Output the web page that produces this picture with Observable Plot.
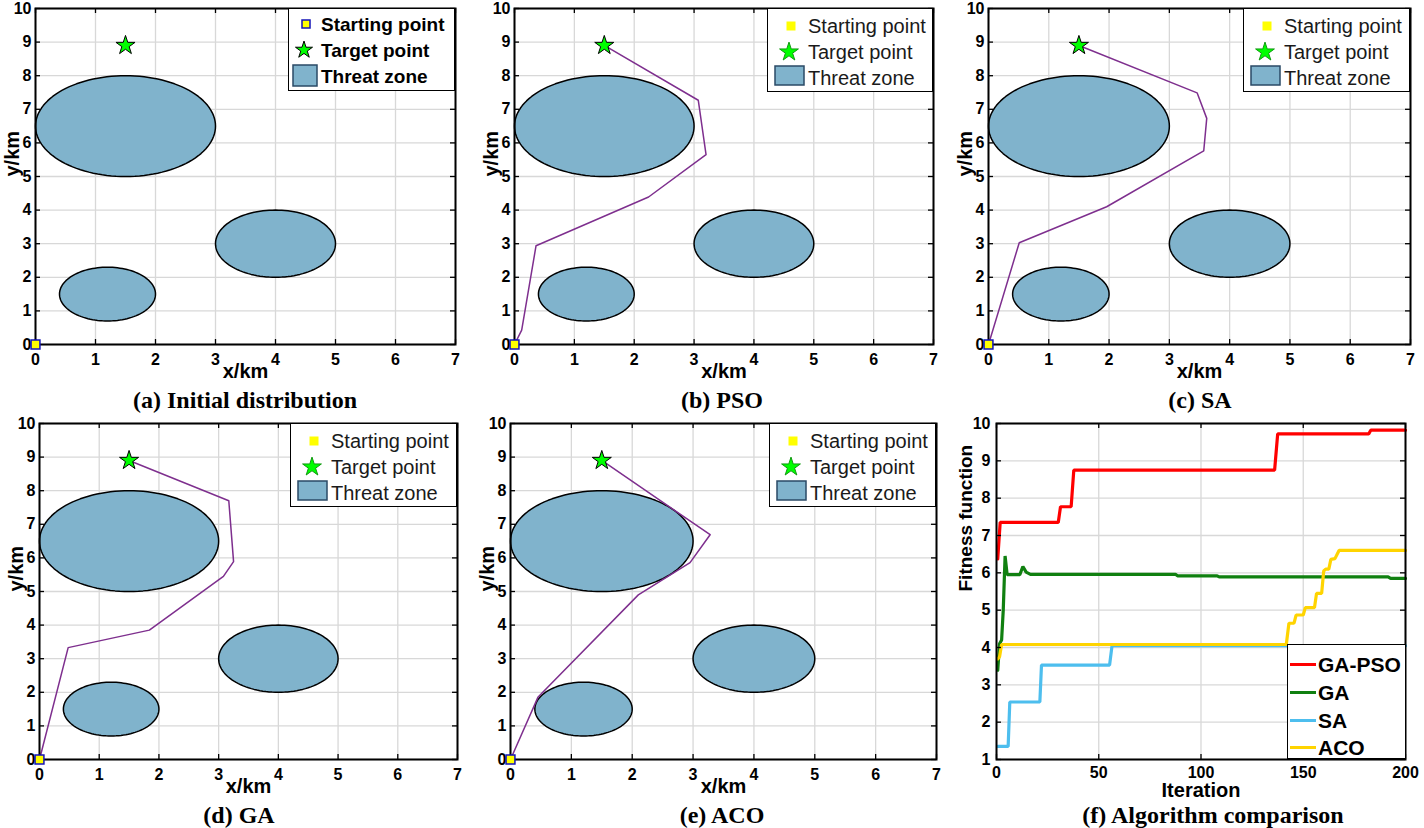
<!DOCTYPE html>
<html><head><meta charset="utf-8">
<script src="https://cdn.jsdelivr.net/npm/d3@7"></script>
<script src="https://cdn.jsdelivr.net/npm/@observablehq/plot@0.6"></script>
<style>
body{margin:0;background:#fff;width:1424px;height:828px;overflow:hidden;position:relative;font-family:"Liberation Sans",Arial,sans-serif;}
.panel{position:absolute;}
.panel svg{overflow:visible;}
.cap{position:absolute;font-family:"Liberation Serif","Times New Roman",serif;font-weight:bold;font-size:24px;white-space:nowrap;transform:translate(-50%,-50%);line-height:1;}
.leg{position:absolute;background:#fff;border:1.5px solid #000;box-sizing:border-box;}
.leg span{position:absolute;white-space:nowrap;line-height:1;transform:translateY(-50%);}
.leg svg{position:absolute;left:0;top:0;overflow:visible;}
</style></head><body>
<script>
// ---------- data ----------
const xTicks = [0, 1, 2, 3, 4, 5, 6, 7];
const yTicks = [0, 1, 2, 3, 4, 5, 6, 7, 8, 9, 10];
const startPoint = {x: 0, y: 0};
const targetPoint = {x: 1.5, y: 8.9};
const threatX = [1.5, 4, 1.2];
const threatY = [6.5, 3, 1.5];
const threatR = [1.5, 1, 0.8];
const legendLabels = ["Starting point", "Target point", "Threat zone"];

const psoX = [0, 0.12, 0.36, 2.24, 3.20, 3.07, 1.5];
const psoY = [0, 0.43, 2.94, 4.39, 5.65, 7.27, 8.9];
const saX  = [0, 0.51, 1.96, 3.57, 3.62, 3.46, 1.5];
const saY  = [0, 3.03, 4.10, 5.76, 6.73, 7.49, 8.9];
const gaX  = [0, 0.48, 1.84, 3.08, 3.25, 3.17, 1.5];
const gaY  = [0, 3.33, 3.85, 5.45, 5.89, 7.70, 8.9];
const acoX = [0, 0.45, 2.10, 2.95, 3.28, 1.5];
const acoY = [0, 1.85, 4.90, 5.86, 6.69, 8.9];

const iterTicks = [0, 50, 100, 150, 200];
const fitTicks = [1, 2, 3, 4, 5, 6, 7, 8, 9, 10];
const seriesNames = ["GA-PSO", "GA", "SA", "ACO"];
const seriesColors = ["#ff0000", "#108010", "#4dbeee", "#ffd400"];
const gapsoIter = [0.6, 1.8, 30.2, 31.3, 36.5, 37.8, 136, 137.5, 182, 183, 200];
const gapsoFit  = [6.37, 7.35, 7.35, 7.77, 7.77, 8.75, 8.75, 9.72, 9.72, 9.82, 9.82];
const gaIter = [0.6, 1.5, 2.5, 3.3, 4.2, 5.2, 11.4, 12.9, 14.5, 16.6, 87.5, 88.5, 107.9, 108.9, 191.5, 192.7, 200];
const gaFit  = [3.39, 4.1, 4.2, 5.0, 6.45, 5.95, 5.95, 6.17, 6.02, 5.96, 5.96, 5.92, 5.92, 5.89, 5.89, 5.85, 5.85];
const saIter = [0.6, 5.7, 6.5, 21.2, 22, 55.3, 56.5, 200];
const saFit  = [1.35, 1.35, 2.54, 2.54, 3.53, 3.53, 4.05, 4.05];
const acoIter = [0.6, 1.5, 2.5, 141.7, 143, 145.5, 146.5, 150, 151, 155.5, 156.5, 159, 160, 161, 162.5, 163.5, 165.5, 167.5, 200];
const acoFit  = [3.69, 3.75, 4.08, 4.08, 4.65, 4.65, 4.87, 4.87, 5.07, 5.07, 5.45, 5.45, 6.05, 6.1, 6.1, 6.36, 6.38, 6.6, 6.6];

// ---------- styles ----------
const GRID = "#d8d8d8", FILL = "#80b3cc", PATH = "#7e2f8e";
const STYLE = {fontFamily: '"Liberation Sans", Arial, sans-serif', fontSize: "16px", fontWeight: "bold", color: "black", background: "transparent", overflow: "visible"};

const ellipsePts = [];
threatX.forEach((cx, i) => {
  for (let k = 0; k <= 120; k++) {
    const a = 2 * Math.PI * k / 120;
    ellipsePts.push({id: i, x: cx + threatR[i] * Math.cos(a), y: threatY[i] + threatR[i] * Math.sin(a)});
  }
});

function axisMarks(xt, yt, xPad, yPad) {
  return [
    Plot.axisX({ticks: xt, tickSize: 0, tickPadding: xPad, tickFormat: "d", fontSize: 16, fontWeight: "bold", label: null}),
    Plot.axisY({ticks: yt, tickSize: 0, tickPadding: yPad, tickFormat: "d", fontSize: 16, fontWeight: "bold", label: null})
  ];
}

function frameMarks(xt, yt, pw, ph) {
  return [
    Plot.tickX(xt, {x: d => d, stroke: "black", strokeWidth: 1.3, insetTop: ph - 5}),
    Plot.tickX(xt, {x: d => d, stroke: "black", strokeWidth: 1.3, insetBottom: ph - 5}),
    Plot.tickY(yt, {y: d => d, stroke: "black", strokeWidth: 1.3, insetRight: pw - 5}),
    Plot.tickY(yt, {y: d => d, stroke: "black", strokeWidth: 1.3, insetLeft: pw - 5}),
    Plot.frame({stroke: "black", strokeWidth: 2})
  ];
}

function place(el, left, top) {
  const d = document.createElement("div");
  d.className = "panel";
  d.style.left = left + "px";
  d.style.top = top + "px";
  d.appendChild(el);
  document.body.appendChild(d);
}

function caption(text, cx, cy) {
  const d = document.createElement("div");
  d.className = "cap";
  d.textContent = text;
  d.style.left = cx + "px";
  d.style.top = cy + "px";
  document.body.appendChild(d);
}

function pathPanel(c) {
  const W = c.mL + c.pw + c.mR, H = c.mT + c.ph + c.mB;
  const marks = [
    Plot.ruleX(xTicks, {stroke: GRID, strokeWidth: 1.3}),
    Plot.ruleY(yTicks, {stroke: GRID, strokeWidth: 1.3}),
    Plot.line(ellipsePts, {x: "x", y: "y", z: "id", fill: FILL, stroke: "black", strokeWidth: 1.5, curve: "linear-closed"})
  ];
  if (c.px) marks.push(Plot.line(c.px.map((x, i) => ({x, y: c.py[i]})), {x: "x", y: "y", stroke: PATH, strokeWidth: 1.5}));
  marks.push(...axisMarks(xTicks, yTicks, 9, 4));
  marks.push(...frameMarks(xTicks, yTicks, c.pw, c.ph));
  marks.push(Plot.dot([startPoint], {x: "x", y: "y", symbol: "square", r: 5, fill: "#ffff00", stroke: "#1515b8", strokeWidth: 1.5}));
  marks.push(Plot.dot([targetPoint], {x: "x", y: "y", symbol: "star", r: 6, fill: "#00ff00", stroke: "black", strokeWidth: 1}));
  marks.push(Plot.text(["x/km"], {frameAnchor: "bottom", dy: 33, fontSize: 20, fontWeight: "bold"}));
  marks.push(Plot.text(["y/km"], {frameAnchor: "left", dx: -23, rotate: -90, fontSize: 20, fontWeight: "bold"}));
  const p = Plot.plot({
    width: W, height: H, marginLeft: c.mL, marginRight: c.mR, marginTop: c.mT, marginBottom: c.mB,
    x: {domain: [0, 7]},
    y: {domain: [0, 10]},
    style: STYLE, marks
  });
  place(p, c.left, c.top);
  pathLegend(c.leg, c.bold);
  caption(c.caption, c.capX, c.capY);
}

function pathLegend(L, bold) {
  const d = document.createElement("div");
  d.className = "leg";
  Object.assign(d.style, {left: L.left + "px", top: L.top + "px", width: L.w + "px", height: L.h + "px"});
  const lay = bold
    ? {sq: [17, 15, 8], st: [15, 41, 90], sw: [4, 56, 24, 21], tx: 32, rows: [15, 41, 67], fs: 19, fw: "bold", col: "#000"}
    : {sq: [23, 17, 9], st: [21, 43, 110], sw: [7, 57, 29, 19], tx: 40, rows: [17, 43, 69], fs: 20, fw: "normal", col: "#1a1a1a"};
  const ns = "http://www.w3.org/2000/svg";
  const svg = document.createElementNS(ns, "svg");
  svg.setAttribute("width", L.w); svg.setAttribute("height", L.h);
  const r = document.createElementNS(ns, "rect");
  const s = lay.sq[2];
  r.setAttribute("x", lay.sq[0] - s / 2); r.setAttribute("y", lay.sq[1] - s / 2);
  r.setAttribute("width", s); r.setAttribute("height", s);
  r.setAttribute("fill", "#ffff00");
  r.setAttribute("stroke", bold ? "#1515b8" : "none"); r.setAttribute("stroke-width", 1.5);
  svg.appendChild(r);
  const st = document.createElementNS(ns, "path");
  st.setAttribute("d", d3.symbol(d3.symbolStar, lay.st[2])());
  st.setAttribute("transform", `translate(${lay.st[0]},${lay.st[1]})`);
  st.setAttribute("fill", "#00ff00");
  st.setAttribute("stroke", bold ? "black" : "#119911"); st.setAttribute("stroke-width", 1);
  svg.appendChild(st);
  const sw = document.createElementNS(ns, "rect");
  sw.setAttribute("x", lay.sw[0]); sw.setAttribute("y", lay.sw[1]);
  sw.setAttribute("width", lay.sw[2]); sw.setAttribute("height", lay.sw[3]);
  sw.setAttribute("fill", FILL); sw.setAttribute("stroke", "#2a4a66"); sw.setAttribute("stroke-width", 1.5);
  svg.appendChild(sw);
  d.appendChild(svg);
  legendLabels.forEach((t, i) => {
    const sp = document.createElement("span");
    sp.textContent = t;
    Object.assign(sp.style, {left: lay.tx + "px", top: lay.rows[i] + "px", fontSize: lay.fs + "px", fontWeight: lay.fw, color: lay.col});
    d.appendChild(sp);
  });
  document.body.appendChild(d);
}

// ---------- panels (a)-(e) ----------
pathPanel({left: 0, top: 0, mL: 35, mT: 8, pw: 420, ph: 336, mR: 15, mB: 42, bold: true,
  leg: {left: 288, top: 8, w: 167, h: 83}, caption: "(a) Initial distribution", capX: 245, capY: 400});
pathPanel({left: 470, top: 0, mL: 44, mT: 8, pw: 419, ph: 336, mR: 12, mB: 42, px: psoX, py: psoY,
  leg: {left: 767, top: 8, w: 166, h: 84}, caption: "(b) PSO", capX: 722, capY: 400});
pathPanel({left: 945, top: 0, mL: 43, mT: 8, pw: 422, ph: 336, mR: 10, mB: 42, px: saX, py: saY,
  leg: {left: 1243, top: 8, w: 167, h: 84}, caption: "(c) SA", capX: 1200, capY: 400});
pathPanel({left: 0, top: 414, mL: 39, mT: 9, pw: 418, ph: 336, mR: 13, mB: 45, px: gaX, py: gaY,
  leg: {left: 290, top: 423, w: 167, h: 84}, caption: "(d) GA", capX: 239, capY: 815});
pathPanel({left: 470, top: 414, mL: 40, mT: 9, pw: 426, ph: 336, mR: 10, mB: 45, px: acoX, py: acoY,
  leg: {left: 769, top: 423, w: 167, h: 84}, caption: "(e) ACO", capX: 722, capY: 815});

// ---------- panel (f) ----------
(function () {
  const c = {left: 946, top: 414, mL: 50, mT: 9, pw: 409, ph: 336, mR: 15, mB: 45};
  const series = [[gapsoIter, gapsoFit], [gaIter, gaFit], [saIter, saFit], [acoIter, acoFit]];
  const rows = [];
  series.forEach(([it, f], s) => it.forEach((x, i) => rows.push({s: seriesNames[s], x, y: f[i]})));
  const marks = [
    Plot.ruleX(iterTicks, {stroke: GRID, strokeWidth: 1.3}),
    Plot.ruleY(fitTicks, {stroke: GRID, strokeWidth: 1.3})
  ];
  seriesNames.forEach((n, s) => marks.push(Plot.line(rows.filter(r => r.s === n), {x: "x", y: "y", stroke: seriesColors[s], strokeWidth: 3.2, strokeLinejoin: "miter"})));
  marks.push(...axisMarks(iterTicks, fitTicks, 7, 6));
  marks.push(...frameMarks(iterTicks, fitTicks, c.pw, c.ph));
  marks.push(Plot.text(["Iteration"], {frameAnchor: "bottom", dy: 37, fontSize: 20, fontWeight: "bold"}));
  marks.push(Plot.text(["Fitness function"], {frameAnchor: "left", dx: -31, rotate: -90, fontSize: 19, fontWeight: "bold"}));
  const p = Plot.plot({
    width: c.mL + c.pw + c.mR, height: c.mT + c.ph + c.mB,
    marginLeft: c.mL, marginRight: c.mR, marginTop: c.mT, marginBottom: c.mB,
    x: {domain: [0, 200]},
    y: {domain: [1, 10]},
    style: STYLE, marks
  });
  place(p, c.left, c.top);
  const d = document.createElement("div");
  d.className = "leg";
  Object.assign(d.style, {left: "1287px", top: "644px", width: "119px", height: "115px"});
  const rowsY = [19, 47, 75, 102];
  seriesNames.forEach((n, i) => {
    const ln = document.createElement("div");
    Object.assign(ln.style, {position: "absolute", left: "2px", top: (rowsY[i] - 1.5) + "px", width: "26px", height: "3px", background: seriesColors[i]});
    d.appendChild(ln);
    const sp = document.createElement("span");
    sp.textContent = n;
    Object.assign(sp.style, {left: "30px", top: rowsY[i] + "px", fontSize: "21px", fontWeight: "bold", color: "#000"});
    d.appendChild(sp);
  });
  document.body.appendChild(d);
  caption("(f) Algorithm comparison", 1213, 815);
})();
</script>
</body></html>
